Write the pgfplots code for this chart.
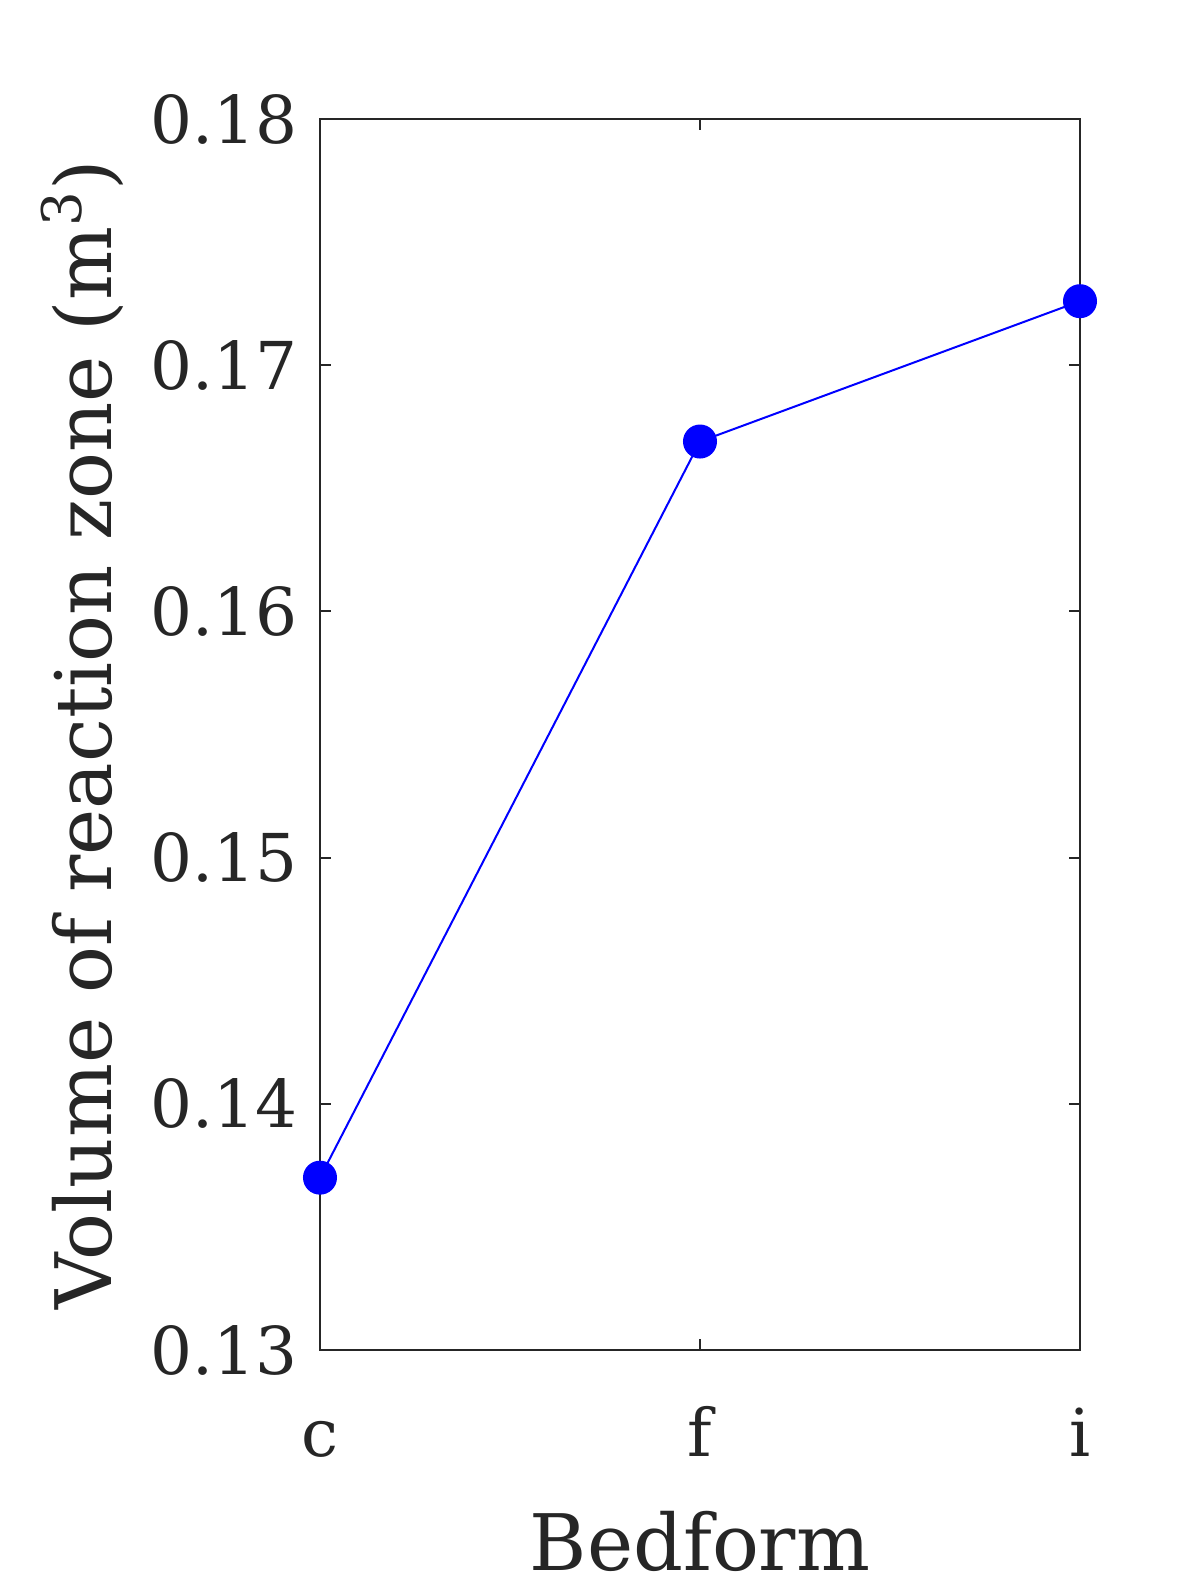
\documentclass[border=0pt]{standalone}
\usepackage{pgfplots}
\pgfplotsset{compat=1.18}
\usepackage{fontspec}
\setmainfont{DejaVu Serif}
\definecolor{txt}{HTML}{262626}
\begin{document}
\begin{tikzpicture}
\path[use as bounding box] (-80pt,-61.25pt) rectangle (219pt,337.5pt);
\begin{axis}[
  at={(0,0)}, anchor=south west,
  scale only axis, width=190pt, height=307.75pt,
  xmin=0, xmax=2, ymin=0.13, ymax=0.18,
  xtick={0,1,2}, xticklabels={c,f,i},
  ytick={0.13,0.14,0.15,0.16,0.17,0.18},
  yticklabel style={/pgf/number format/fixed,/pgf/number format/precision=2,/pgf/number format/fixed zerofill},
  /pgf/number format/assume math mode=true,
  tick align=inside, major tick length=2.8pt,
  axis line style={color=txt, line width=0.5pt},
  tick style={color=txt, line width=0.5pt},
  ticklabel style={font=\fontsize{16.5}{18}\selectfont, color=txt},
  xticklabel style={anchor=base, yshift=-26.5pt},
  yticklabel style={xshift=-2pt},
  xlabel style={font=\fontsize{19.5}{23}\selectfont, color=txt, at={(axis description cs:0.5,0)}, anchor=base, yshift=-55pt},
  ylabel style={font=\fontsize{19.5}{23}\selectfont, color=txt, yshift=0pt},
  xlabel={Bedform},
  ylabel={Volume of reaction zone (m\textsuperscript{3})},
  clip=false,
]
\addplot[color=blue, line width=0.5pt, mark=*, mark size=4pt, mark options={fill=blue, draw=blue}]
  coordinates {(0,0.1370) (1,0.1669) (2,0.1726)};
\end{axis}
\end{tikzpicture}
\end{document}
